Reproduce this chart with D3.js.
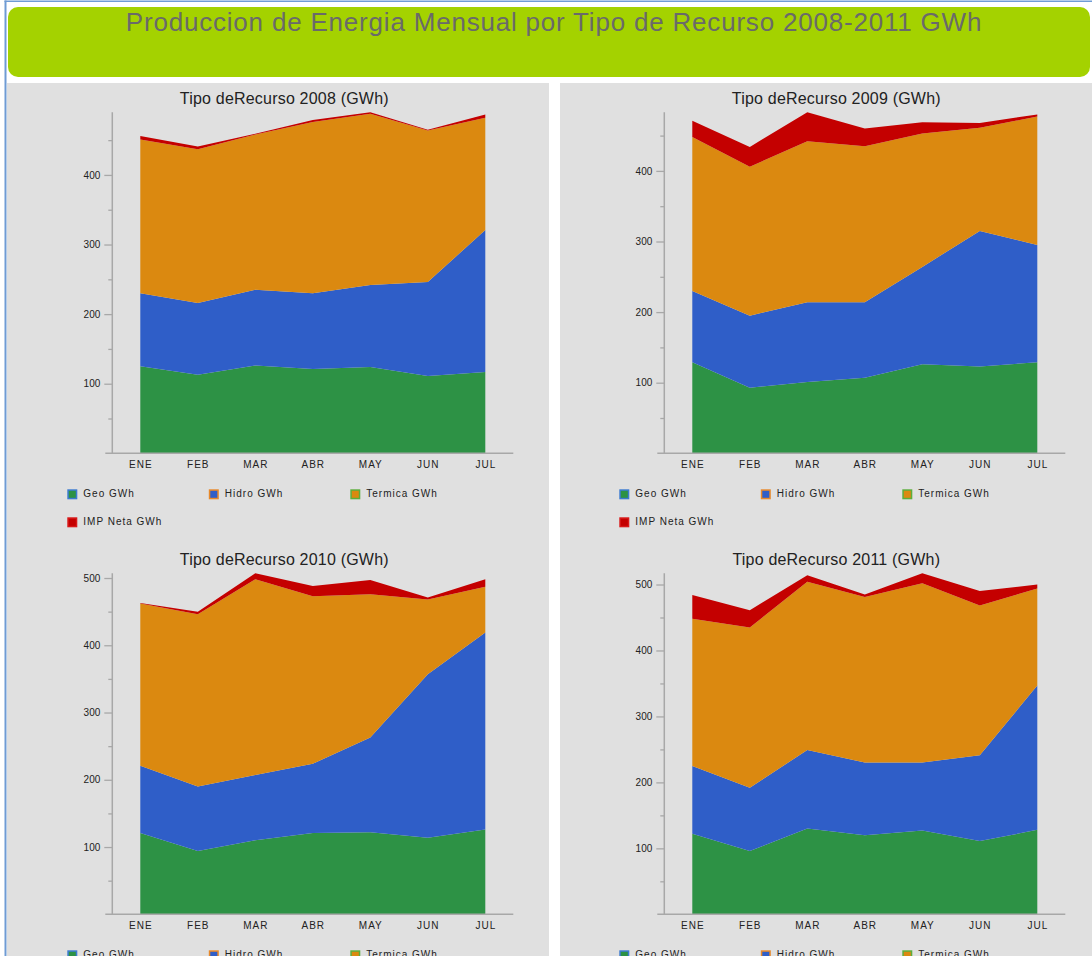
<!DOCTYPE html>
<html>
<head>
<meta charset="utf-8">
<script src="https://cdn.jsdelivr.net/npm/d3@7"></script>
<style>
  body { margin: 0; background: #ffffff; }
  svg { display: block; font-family: "Liberation Sans", Arial, sans-serif; }
</style>
</head>
<body>
<div id="chart"></div>
<script>
var months = ["ENE", "FEB", "MAR", "ABR", "MAY", "JUN", "JUL"];
var seriesNames = ["Geo GWh", "Hidro GWh", "Termica GWh", "IMP Neta GWh"];
var years = ["2008", "2009", "2010", "2011"];

var geo2008     = [125, 113, 126, 121, 124, 111, 117];
var hidro2008   = [105, 103, 109, 109, 118, 135, 204];
var termica2008 = [221, 221, 223, 246, 246, 218, 161];
var imp2008     = [5, 4, 1, 3, 2, 1, 5];

var geo2009     = [129, 93, 101, 107, 126, 123, 129];
var hidro2009   = [101, 102, 113, 107, 138, 192, 166];
var termica2009 = [218, 211, 228, 221, 189, 146, 182];
var imp2009     = [23, 28, 41, 25, 16, 7, 3];

var geo2010     = [121, 94, 110, 121, 122, 114, 126];
var hidro2010   = [100, 96, 97, 103, 141, 243, 293];
var termica2010 = [241, 256, 291, 249, 213, 111, 68];
var imp2010     = [1, 4, 9, 15, 21, 3, 11];

var geo2011     = [122, 96, 130, 120, 127, 111, 128];
var hidro2011   = [103, 96, 119, 110, 103, 130, 219];
var termica2011 = [223, 243, 255, 251, 272, 227, 147];
var imp2011     = [36, 26, 10, 4, 15, 22, 6];

var fills   = ["#2d9245", "#2f5ec8", "#db8910", "#c40000"];
var borders = ["#3b7bd0", "#e8892a", "#5cae3c", "#d81818"];

var W = 1092, H = 956;
var svg = d3.select("#chart").append("svg")
    .attr("width", W)
    .attr("height", H);

// page frame
svg.append("rect").attr("x", 4.5).attr("y", 0.5).attr("width", W).attr("height", 1.5).attr("fill", "#6f9bd4");
svg.append("rect").attr("x", 4.5).attr("y", 0.5).attr("width", 2).attr("height", H).attr("fill", "#6f9bd4");

// title banner
svg.append("rect")
    .attr("x", 8).attr("y", 7)
    .attr("width", 1082).attr("height", 70)
    .attr("rx", 10).attr("ry", 10)
    .attr("fill", "#a4d200");
svg.append("text")
    .attr("x", 554).attr("y", 31)
    .attr("text-anchor", "middle")
    .attr("font-size", "26px")
    .attr("letter-spacing", "0.8px")
    .attr("fill", "#6a6a6a")
    .text("Produccion de Energia Mensual por Tipo de Recurso 2008-2011 GWh");

// grey panels
svg.append("rect").attr("x", 7).attr("y", 83).attr("width", 542).attr("height", H).attr("fill", "#e0e0e0");
svg.append("rect").attr("x", 560).attr("y", 83).attr("width", 540).attr("height", H).attr("fill", "#e0e0e0");

function drawChart(ox, oy, year, geo, hidro, termica, imp) {
    var g = svg.append("g");

    var rows = months.map(function(m, i) {
        return {month: m, geo: geo[i], hidro: hidro[i], termica: termica[i], imp: imp[i]};
    });
    var stack = d3.stack().keys(["geo", "hidro", "termica", "imp"]);
    var layers = stack(rows);
    var maxTop = d3.max(layers[layers.length - 1], function(d) { return d[1]; });

    var x = d3.scalePoint().domain(months).range([ox + 28, ox + 373]);
    var y = d3.scaleLinear().domain([0, maxTop]).range([oy, oy - 341]);

    var area = d3.area()
        .x(function(d) { return x(d.data.month); })
        .y0(function(d) { return y(d[0]); })
        .y1(function(d) { return y(d[1]); });

    g.selectAll("path.layer")
        .data(layers)
        .enter()
        .append("path")
        .attr("class", "layer")
        .attr("d", area)
        .attr("fill", function(d, i) { return fills[i]; });

    // title
    g.append("text")
        .attr("x", ox + 172).attr("y", oy - 349)
        .attr("text-anchor", "middle")
        .attr("font-size", "16px")
        .attr("letter-spacing", "0.2px")
        .attr("fill", "#222")
        .text("Tipo deRecurso " + year + " (GWh)");

    // y axis: minor ticks every 50, labels every 100
    var minor = d3.range(50, maxTop, 100);
    var major = d3.range(100, maxTop, 100);

    var yMinor = g.append("g")
        .attr("transform", "translate(" + ox + ",0)")
        .call(d3.axisLeft(y).tickValues(minor).tickSize(4).tickSizeOuter(0).tickFormat(""));
    yMinor.select(".domain").remove();

    var yMajor = g.append("g")
        .attr("transform", "translate(" + ox + ",0)")
        .call(d3.axisLeft(y).tickValues(major).tickSize(8).tickSizeOuter(0).tickPadding(4));
    yMajor.select(".domain").remove();
    yMajor.selectAll("text")
        .attr("font-size", "10px")
        .attr("fill", "#222");

    g.selectAll(".tick line").attr("stroke", "#a8a8a8").attr("stroke-width", 1.3);

    g.append("line")
        .attr("x1", ox).attr("x2", ox)
        .attr("y1", y(maxTop)).attr("y2", oy)
        .attr("stroke", "#a8a8a8").attr("stroke-width", 1.5);

    // x axis
    var xAxis = g.append("g")
        .attr("transform", "translate(0," + oy + ")")
        .call(d3.axisBottom(x).tickSize(0).tickPadding(7.5));
    xAxis.select(".domain").remove();
    xAxis.selectAll("text")
        .attr("font-size", "10px")
        .attr("letter-spacing", "1px")
        .attr("fill", "#222");

    g.append("line")
        .attr("x1", ox - 7).attr("x2", ox + 401)
        .attr("y1", oy).attr("y2", oy)
        .attr("stroke", "#a8a8a8").attr("stroke-width", 1.5);

    // legend
    var leg = g.selectAll("g.leg")
        .data(seriesNames)
        .enter()
        .append("g")
        .attr("class", "leg")
        .attr("transform", function(d, i) {
            var col = i % 3, row = Math.floor(i / 3);
            return "translate(" + (ox - 45 + col * 141.5) + "," + (oy + 36 + row * 28) + ")";
        });
    leg.append("rect")
        .attr("x", 0.75).attr("y", 0.75)
        .attr("width", 8.5).attr("height", 8.5)
        .attr("fill", function(d, i) { return fills[i]; })
        .attr("stroke", function(d, i) { return borders[i]; })
        .attr("stroke-width", 1.5);
    leg.append("text")
        .attr("x", 16).attr("y", 8)
        .attr("font-size", "10px")
        .attr("letter-spacing", "1px")
        .attr("fill", "#222")
        .text(function(d) { return d; });
}

drawChart(112.3, 453.3, "2008", geo2008, hidro2008, termica2008, imp2008);
drawChart(664.3, 453.3, "2009", geo2009, hidro2009, termica2009, imp2009);
drawChart(112.3, 914.3, "2010", geo2010, hidro2010, termica2010, imp2010);
drawChart(664.3, 914.3, "2011", geo2011, hidro2011, termica2011, imp2011);
</script>
</body>
</html>
